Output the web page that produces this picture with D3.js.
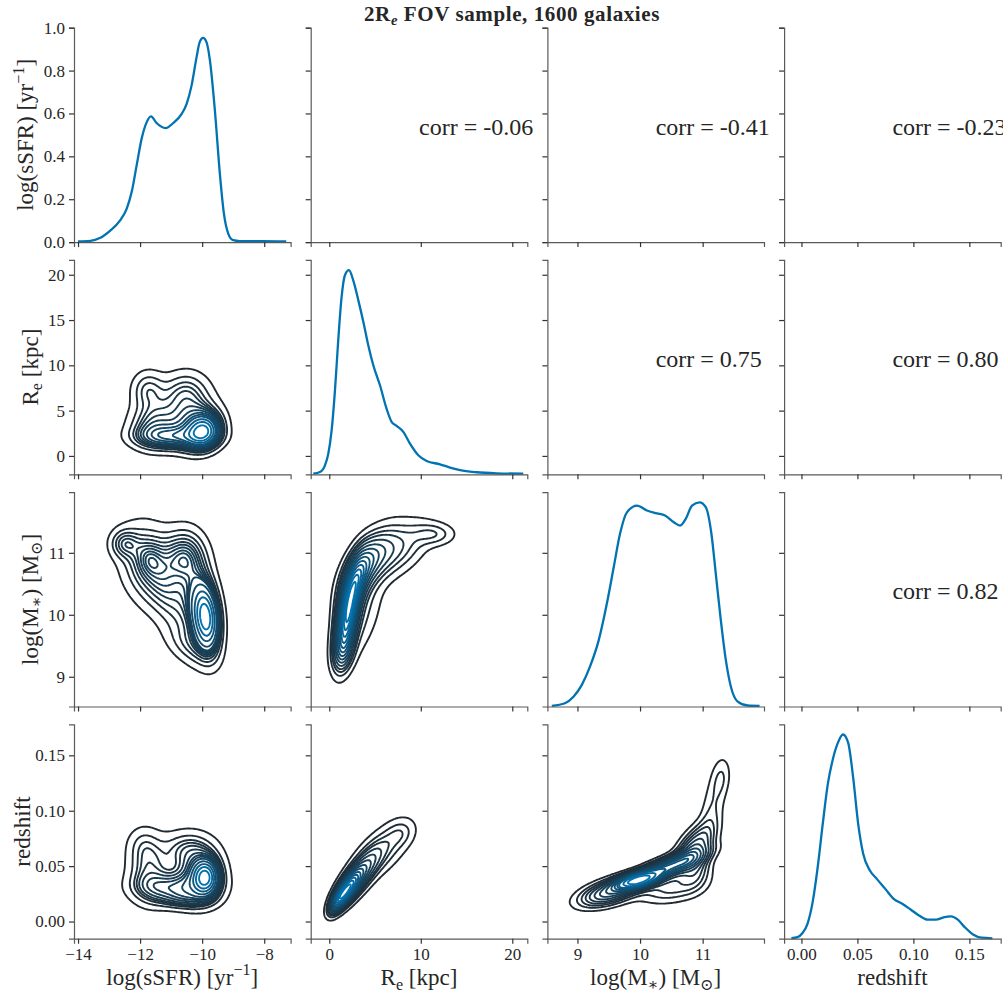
<!DOCTYPE html>
<html>
<head>
<meta charset="utf-8">
<script src="https://cdn.jsdelivr.net/npm/d3@7"></script>
<style>
  body { margin: 0; background: #fff; }
  text { font-family: "Liberation Serif", "DejaVu Serif", serif; fill: #262626; white-space: pre; }
</style>
</head>
<body>
<svg id="fig" width="1003" height="997"></svg>
<script>
// ---------------- data ----------------
// axis limits shared by each variable (columns for x, rows for y)
const ssfrDomain = [-14.13, -7.15];
const reDomain = [-2.03, 21.64];
const massDomain = [8.52, 11.98];
const zDomain = [-0.0155, 0.178];
const topRowDomain = [0, 1];

const ssfrTicks = [-14, -12, -10, -8];
const reTicksX = [0, 10, 20];
const reTicksY = [0, 5, 10, 15, 20];
const massTicks = [9, 10, 11];
const zTicks = [0, 0.05, 0.10, 0.15];
const topRowTicks = [0, 0.2, 0.4, 0.6, 0.8, 1.0];

// 1-D kernel density estimates (relative density)
const ssfrKdeX = [-14.0,-13.6,-13.3,-12.97,-12.65,-12.43,-12.27,-12.11,-11.95,-11.79,-11.65,-11.47,-11.18,-10.93,-10.66,-10.5,-10.34,-10.18,-10.08,-9.97,-9.86,-9.75,-9.59,-9.43,-9.30,-9.16,-9.0,-8.79,-8.04,-7.29];
const ssfrKdeY = [0.003,0.006,0.019,0.053,0.10,0.157,0.235,0.36,0.484,0.56,0.588,0.557,0.533,0.557,0.60,0.647,0.733,0.865,0.935,0.955,0.935,0.85,0.616,0.32,0.134,0.04,0.009,0.005,0.004,0.003];

const reKdeX = [-1.75,-1.02,-0.47,-0.11,0.26,0.62,0.98,1.35,1.71,2.15,2.62,3.17,3.72,4.26,4.81,5.54,6.27,6.81,7.36,8.09,8.82,9.73,10.64,12.1,13.2,14.3,16.1,18.3,21.2];
const reKdeY = [0.003,0.011,0.044,0.10,0.216,0.41,0.657,0.87,0.975,1.0,0.95,0.853,0.747,0.632,0.534,0.436,0.32,0.257,0.237,0.208,0.15,0.093,0.065,0.049,0.033,0.02,0.01,0.005,0.003];

const massKdeX = [8.59,8.80,8.94,9.07,9.20,9.34,9.47,9.58,9.68,9.79,9.95,10.11,10.27,10.40,10.54,10.64,10.73,10.83,10.95,11.05,11.14,11.21,11.29,11.37,11.45,11.56,11.72,11.91];
const massKdeY = [0.003,0.016,0.049,0.106,0.195,0.325,0.504,0.683,0.846,0.951,0.984,0.96,0.946,0.935,0.902,0.886,0.919,0.984,1.0,0.976,0.846,0.65,0.423,0.228,0.098,0.024,0.005,0.003];

const zKdeX = [-0.009,-0.0036,0.001,0.0054,0.010,0.0145,0.019,0.0235,0.028,0.0326,0.0371,0.0417,0.0462,0.0507,0.0552,0.0613,0.0673,0.0749,0.0824,0.090,0.0975,0.105,0.1126,0.120,0.1277,0.1337,0.1397,0.1458,0.1533,0.161,0.1706];
const zKdeY = [0.003,0.008,0.028,0.073,0.179,0.35,0.561,0.756,0.878,0.96,1.0,0.96,0.789,0.561,0.415,0.333,0.293,0.244,0.195,0.171,0.143,0.114,0.093,0.093,0.106,0.109,0.093,0.057,0.021,0.005,0.002];

// 2-D densities as Gaussian components: [meanX, meanY, sigmaX, sigmaY, rho, weight]
const reVsSsfr = [
  [-9.95, 2.7, 0.32, 1.1, 0.1, 0.18],
  [-10.15, 3.3, 0.50, 1.7, 0.1, 0.22],
  [-10.9, 2.1, 0.75, 0.8, 0.0, 0.15],
  [-11.6, 3.2, 0.50, 1.6, 0.0, 0.13],
  [-11.75, 7.3, 0.35, 1.4, 0.0, 0.06],
  [-10.5, 7.0, 0.50, 1.6, 0.0, 0.11],
  [-11.0, 4.5, 0.60, 2.0, 0.0, 0.10]
];
const massVsSsfr = [
  [-9.88, 9.95, 0.24, 0.30, -0.2, 0.23],
  [-10.05, 10.15, 0.40, 0.50, -0.3, 0.22],
  [-11.72, 10.93, 0.30, 0.20, 0.0, 0.02],
  [-11.7, 10.8, 0.60, 0.42, -0.2, 0.20],
  [-10.6, 10.95, 0.45, 0.28, 0.0, 0.12],
  [-11.0, 10.3, 0.55, 0.45, -0.5, 0.12],
  [-12.5, 11.15, 0.30, 0.15, 0.0, 0.03],
  [-10.4, 9.5, 0.50, 0.22, -0.4, 0.04]
];
const massVsRe = [
  [1.8, 9.75, 0.75, 0.35, 0.4, 0.16],
  [2.3, 10.2, 0.85, 0.38, 0.6, 0.20],
  [3.0, 10.6, 1.2, 0.32, 0.6, 0.16],
  [4.5, 10.9, 1.8, 0.32, 0.6, 0.16],
  [7.5, 11.05, 2.2, 0.30, 0.5, 0.13],
  [11.5, 11.3, 1.5, 0.12, 0.0, 0.03],
  [3.2, 10.0, 1.7, 0.50, 0.5, 0.12],
  [1.5, 9.4, 0.7, 0.20, 0.2, 0.03]
];
const zVsSsfr = [
  [-9.9, 0.040, 0.25, 0.0095, 0.0, 0.20],
  [-10.1, 0.042, 0.50, 0.016, 0.0, 0.25],
  [-10.9, 0.031, 0.75, 0.008, 0.0, 0.16],
  [-11.7, 0.045, 0.45, 0.018, 0.0, 0.15],
  [-11.9, 0.070, 0.35, 0.011, 0.0, 0.03],
  [-10.5, 0.066, 0.55, 0.011, 0.0, 0.08],
  [-10.6, 0.020, 0.60, 0.006, 0.0, 0.05]
];
const zVsRe = [
  [2.0, 0.030, 0.9, 0.010, 0.7, 0.30],
  [3.3, 0.042, 1.4, 0.015, 0.75, 0.30],
  [1.0, 0.019, 0.6, 0.007, 0.6, 0.10],
  [5.8, 0.064, 1.9, 0.016, 0.6, 0.19],
  [7.8, 0.080, 1.0, 0.008, 0.2, 0.03]
];
const zVsMass = [
  [9.95, 0.037, 0.22, 0.005, 0.5, 0.18],
  [10.4, 0.048, 0.35, 0.009, 0.8, 0.24],
  [9.5, 0.026, 0.30, 0.008, 0.5, 0.15],
  [10.85, 0.065, 0.20, 0.014, 0.6, 0.14],
  [11.15, 0.10, 0.14, 0.025, 0.5, 0.05],
  [11.3, 0.13, 0.10, 0.012, 0.2, 0.015],
  [10.5, 0.030, 0.35, 0.009, 0.3, 0.08],
  [10.9, 0.045, 0.15, 0.010, 0.3, 0.04]
];

// Pearson coefficients shown in the upper triangle: [row, col, value]
const corrCells = [[0, 1, -0.06], [0, 2, -0.41], [0, 3, -0.23], [1, 2, 0.75], [1, 3, 0.80], [2, 3, 0.82]];

const titleParts = [{t: "2R"}, {t: "e", sub: true, italic: true}, {t: " FOV sample, 1600 galaxies"}];
const ssfrLabel = [{t: "log(sSFR) [yr"}, {t: "\u22121", sup: true}, {t: "]"}];
const reLabel = [{t: "R"}, {t: "e", sub: true}, {t: " [kpc]"}];
const massLabel = [{t: "log(M"}, {t: "\u2217", sub: true}, {t: ") [M"}, {t: "\u2299", sub: true}, {t: "]"}];
const zLabel = [{t: "redshift"}];

// ---------------- layout ----------------
const gridLeft = 74, gridTop = 27.7, colStep = 236.7, rowStep = 232.2;
const panelW = 216.6, panelH = 214.4;
const lineColor = "#0173b2";
const darkColor = "#212a31";
const nLevels = 15, thresh = 0.05, gridN = 160;
const tickFont = 17, labelFont = 23, corrFont = 24, titleFont = 21;
const labelDepth = [5.5, 5.5, 5.5, 0];   // descent of each row label below its baseline

const fmtMinus = f => v => f(v).replace("-", "\u2212");
const variables = [
  {domain: ssfrDomain, xticks: ssfrTicks, fmtX: fmtMinus(d3.format("d")), label: ssfrLabel,
   kdeX: ssfrKdeX, kdeY: ssfrKdeY},
  {domain: reDomain, xticks: reTicksX, yticks: reTicksY, fmtX: d3.format("d"), fmtY: d3.format("d"), label: reLabel,
   kdeX: reKdeX, kdeY: reKdeY},
  {domain: massDomain, xticks: massTicks, yticks: massTicks, fmtX: d3.format("d"), fmtY: d3.format("d"), label: massLabel,
   kdeX: massKdeX, kdeY: massKdeY},
  {domain: zDomain, xticks: zTicks, yticks: zTicks, fmtX: d3.format(".2f"), fmtY: d3.format(".2f"), label: zLabel,
   kdeX: zKdeX, kdeY: zKdeY}
];
const lowerPanels = {"1,0": reVsSsfr, "2,0": massVsSsfr, "2,1": massVsRe, "3,0": zVsSsfr, "3,1": zVsRe, "3,2": zVsMass};

const svg = d3.select("#fig");

function richText(sel, parts, size) {
  let shift = 0;
  parts.forEach(p => {
    const ts = sel.append("tspan").text(p.t);
    let target = 0;
    if (p.sup) { ts.attr("font-size", size * 0.7); target = -size * 0.42; }
    else if (p.sub) { ts.attr("font-size", size * 0.7); target = size * 0.2; }
    if (p.italic) ts.attr("font-style", "italic");
    if (target !== shift) { ts.attr("dy", target - shift); shift = target; }
  });
}

function densityGrid(components, xd, yd, n) {
  const dx = (xd[1] - xd[0]) / n, dy = (yd[1] - yd[0]) / n;
  const values = new Float64Array(n * n);
  for (let j = 0; j < n; j++) {
    const y = yd[0] + (j + 0.5) * dy;
    for (let i = 0; i < n; i++) {
      const x = xd[0] + (i + 0.5) * dx;
      let s = 0;
      for (const [mx, my, sx, sy, r, w] of components) {
        const u = (x - mx) / sx, v = (y - my) / sy, k = 1 - r * r;
        s += w / (sx * sy * Math.sqrt(k)) * Math.exp(-0.5 * (u * u - 2 * r * u * v + v * v) / k);
      }
      values[j * n + i] = s;
    }
  }
  return {values, dx, dy};
}

// iso-proportion density levels (fraction of mass outside each contour)
function isoLevels(values, props) {
  const sorted = Array.from(values).sort((a, b) => b - a);
  const total = d3.sum(sorted);
  let cum = 0;
  const cums = sorted.map(v => (cum += v) / total);
  return props.map(p => sorted[Math.min(d3.bisectLeft(cums, 1 - p), sorted.length - 1)]);
}

const rowTickLeft = [];

for (let row = 0; row < 4; row++) {
  for (let col = 0; col < 4; col++) {
    const x0 = gridLeft + col * colStep, y0 = gridTop + row * rowStep;
    const g = svg.append("g").attr("transform", `translate(${x0},${y0})`);
    const vx = variables[col], vy = variables[row];
    const xs = d3.scaleLinear().domain(vx.domain).range([0, panelW]);
    const ys = d3.scaleLinear().domain(row === 0 ? topRowDomain : vy.domain).range([panelH, 0]);

    if (row === col) {
      const pts = d3.zip(vx.kdeX, vx.kdeY);
      const yk = d3.scaleLinear().domain([0, d3.max(vx.kdeY) * 1.05]).range([panelH, 0]);
      g.append("path").datum(pts)
        .attr("fill", "none").attr("stroke", lineColor).attr("stroke-width", 2.3)
        .attr("stroke-linejoin", "round")
        .attr("d", d3.line().x(d => xs(d[0])).y(d => yk(d[1])).curve(d3.curveMonotoneX));
    } else if (row > col) {
      const comps = lowerPanels[`${row},${col}`];
      const xd = vx.domain, yd = vy.domain;
      const {values, dx, dy} = densityGrid(comps, xd, yd, gridN);
      const props = d3.range(nLevels).map(i => thresh + i * (1 - thresh) / (nLevels - 1));
      // the top level equals the grid maximum and draws nothing
      const levels = isoLevels(values, props).slice(0, -1);
      const color = d3.scaleLinear().domain([levels[0], levels[levels.length - 1]])
        .range([darkColor, lineColor]).interpolate(d3.interpolateRgb).clamp(true);
      const contours = d3.contours().size([gridN, gridN]).thresholds(levels)(values);
      const proj = d3.geoTransform({
        point(px, py) { this.stream.point(xs(xd[0] + px * dx), ys(yd[0] + py * dy)); }
      });
      const path = d3.geoPath(proj);
      g.selectAll("path.c").data(contours).join("path")
        .attr("class", "c")
        .attr("fill", "none")
        .attr("stroke", d => color(d.value))
        .attr("stroke-width", 1.9)
        .attr("stroke-linejoin", "round")
        .attr("d", path);
    }

    // axes: left and bottom only
    const xAxis = d3.axisBottom(xs).tickValues(vx.xticks).tickSizeOuter(0).tickSize(5).tickPadding(4)
      .tickFormat(row === 3 ? vx.fmtX : "");
    const yFmt = row === 0 ? d3.format(".1f") : vy.fmtY;
    const yAxis = d3.axisLeft(ys).tickValues(row === 0 ? topRowTicks : vy.yticks).tickSizeOuter(0).tickSize(5).tickPadding(4)
      .tickFormat(col === 0 ? yFmt : "");
    const gx = g.append("g").attr("transform", `translate(0,${panelH})`).call(xAxis);
    const gy = g.append("g").call(yAxis);
    [gx, gy].forEach(a => {
      a.attr("font-family", null).attr("font-size", null);
      a.select(".domain").attr("stroke", "#5a5a5a").attr("stroke-width", 1.2);
      a.selectAll(".tick line").attr("stroke", "#333").attr("stroke-width", 1.2);
      a.selectAll(".tick text").attr("font-size", tickFont).attr("fill", "#262626");
    });
    if (col === 0) {
      let w = 0;
      gy.selectAll(".tick text").each(function () { w = Math.max(w, this.getComputedTextLength()); });
      rowTickLeft[row] = x0 - 9 - w;
    }
  }
}

// correlation annotations
corrCells.forEach(([row, col, v]) => {
  svg.append("text")
    .attr("x", gridLeft + col * colStep + panelW * 0.5)
    .attr("y", gridTop + row * rowStep + panelH * 0.5)
    .attr("font-size", corrFont)
    .text(`corr = ${v.toFixed(2)}`);
});

// axis labels
variables.forEach((v, i) => {
  const cx = gridLeft + i * colStep + panelW / 2;
  const bt = svg.append("text").attr("x", cx).attr("y", 985).attr("text-anchor", "middle").attr("font-size", labelFont);
  richText(bt, v.label, labelFont);
  const cy = gridTop + i * rowStep + panelH / 2;
  const lx = rowTickLeft[i] - 5 - labelDepth[i];
  const lt = svg.append("text").attr("transform", `translate(${lx},${cy}) rotate(-90)`)
    .attr("text-anchor", "middle").attr("font-size", labelFont);
  richText(lt, v.label, labelFont);
});

// figure title
const tt = svg.append("text").attr("x", 512).attr("y", 21).attr("text-anchor", "middle")
  .attr("font-size", titleFont).attr("font-weight", "bold").attr("letter-spacing", 0.6);
richText(tt, titleParts, titleFont);
</script>
</body>
</html>
